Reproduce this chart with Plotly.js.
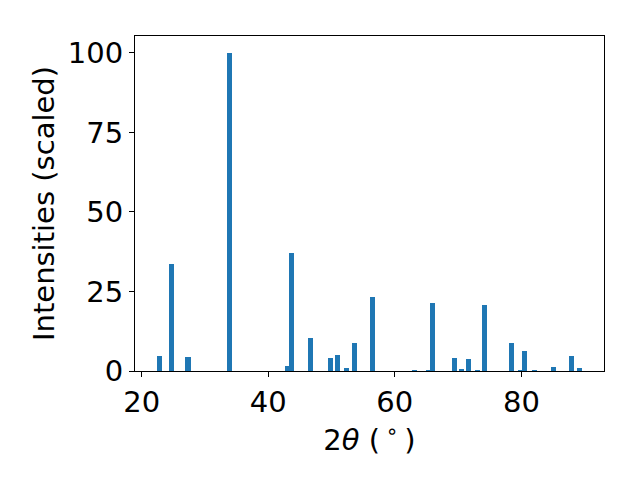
<!DOCTYPE html>
<html>
<head>
<meta charset="utf-8">
<script src="https://cdn.plot.ly/plotly-3.0.1.min.js"></script>
<style>html,body{margin:0;padding:0;background:#fff;}#chart{width:640px;height:480px;}</style>
</head>
<body>
<div id="chart"></div>
<script>
const twoTheta = [22.81, 24.71, 27.32, 33.88, 42.97, 43.68, 46.68, 49.84, 50.95, 52.37, 53.63, 56.48,
  63.12, 65.25, 65.96, 69.44, 70.55, 71.65, 73.07, 74.18, 78.45, 79.87, 80.50, 82.08, 85.01, 87.93, 89.20];
const intensities = [4.7, 33.6, 4.4, 100, 1.6, 37.1, 10.4, 4.1, 5.0, 0.9, 8.8, 23.3,
  0.3, 0.3, 21.4, 4.1, 0.7, 3.8, 0.3, 20.8, 8.8, 0.3, 6.3, 0.3, 1.3, 4.7, 0.9];
const xTicks = [20, 40, 60, 80];
const yTicks = [0, 25, 50, 75, 100];

const font = {family: 'DejaVu Sans', size: 29, color: '#000'};
Plotly.newPlot('chart', [{
  type: 'bar',
  x: twoTheta,
  y: intensities,
  width: 0.8,
  marker: {color: '#1f77b4', line: {width: 0}},
  hoverinfo: 'none'
}], {
  width: 640, height: 480,
  margin: {l: 135, r: 36, t: 36, b: 109},
  paper_bgcolor: '#fff', plot_bgcolor: '#fff',
  showlegend: false,
  font: font,
  bargap: 0,
  xaxis: {
    range: [18.95, 93.05],
    tickvals: xTicks, ticktext: xTicks.map(String),
    ticks: 'outside', ticklen: 5, tickwidth: 1, tickcolor: '#000',
    showline: true, linecolor: '#000', linewidth: 1, mirror: true,
    showgrid: false, zeroline: false,
    tickfont: font,
    title: {text: '2<i>θ</i> (\u2009<sup>∘</sup>\u2009)', font: font, standoff: 2}
  },
  yaxis: {
    range: [0, 105.3],
    tickvals: yTicks, ticktext: yTicks.map(String),
    ticks: 'outside', ticklen: 5, tickwidth: 1, tickcolor: '#000',
    showline: true, linecolor: '#000', linewidth: 1, mirror: true,
    showgrid: false, zeroline: false,
    tickfont: font,
    title: {text: 'Intensities (scaled)', font: font, standoff: 4}
  }
}, {displayModeBar: false, staticPlot: true});
</script>
</body>
</html>
